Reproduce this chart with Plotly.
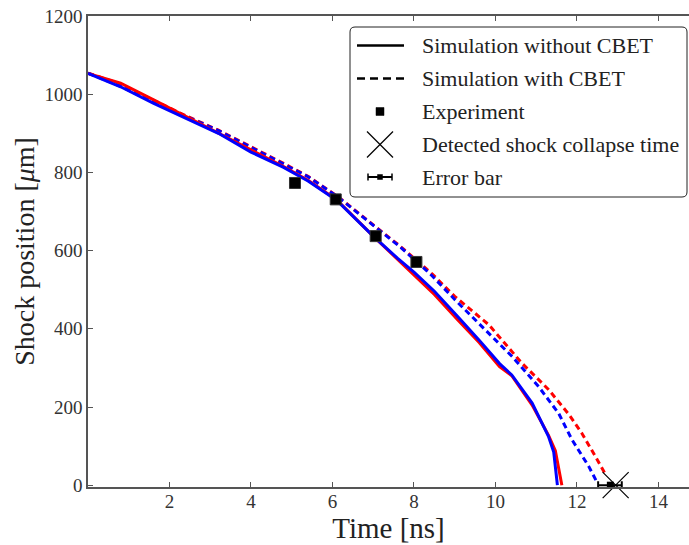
import plotly.graph_objects as go

# ---------------- data ----------------
t_nocbet_red = [0, 0.8, 1.6, 2.4, 3.2, 4.0, 4.8, 5.4, 6.1, 7.0, 7.6, 8.0, 8.5, 9.1, 9.6, 10.1, 10.4, 10.9, 11.3, 11.47, 11.55, 11.63]
y_nocbet_red = [1053, 1028, 986, 943, 902, 857, 815, 780, 730, 637, 577, 538, 488, 420, 365, 303, 280, 205, 128, 88, 40, 0]

t_nocbet_blue = [0, 0.8, 1.6, 2.4, 3.2, 4.0, 4.8, 5.4, 6.1, 7.0, 7.6, 8.0, 8.5, 9.1, 9.6, 10.1, 10.4, 10.9, 11.3, 11.43, 11.48, 11.52]
y_nocbet_blue = [1053, 1019, 977, 938, 900, 852, 813, 778, 729, 637, 580, 545, 496, 428, 371, 311, 282, 210, 125, 85, 45, 0]

t_cbet_red = [0, 0.8, 1.6, 2.4, 3.2, 4.0, 4.8, 5.4, 6.16, 7.14, 7.63, 8.12, 8.45, 9.0, 9.84, 10.65, 11.3, 11.81, 12.12, 12.45, 12.7]
y_cbet_red = [1054, 1026, 985, 945, 908, 866, 823, 790, 736, 654, 614, 570, 540, 483, 410, 312, 245, 180, 133, 74, 28]

t_cbet_blue = [0, 0.8, 1.6, 2.4, 3.2, 4.0, 4.8, 5.4, 6.16, 7.14, 7.63, 8.12, 8.45, 9.0, 9.76, 10.41, 11.06, 11.55, 11.88, 12.29, 12.49]
y_cbet_blue = [1054, 1020, 980, 943, 907, 864, 822, 789, 735, 652, 612, 567, 535, 475, 397, 329, 252, 184, 116, 48, 8]

t_experiment = [5.08, 6.08, 7.06, 8.06]
y_experiment = [773, 731, 637, 571]

t_errorbar = [12.82]
y_errorbar = [0]
err_plus = [0.28]
err_minus = [0.30]

t_collapse = [12.95]
y_collapse = [0]

x_ticks = [2, 4, 6, 8, 10, 12, 14]
y_ticks = [0, 200, 400, 600, 800, 1000, 1200]

legend_labels = ["Simulation without CBET", "Simulation with CBET", "Experiment",
                 "Detected shock collapse time", "Error bar"]

# ---------------- figure ----------------
FONT = "Liberation Serif"
W, H = 689, 545
# plot area in page pixels
SX0, SX1, SY0, SY1 = 88, 689, 16, 487
ML, MR, MT, MB = SX0, W - SX1, SY0, H - SY1
PW, PH = SX1 - SX0, SY1 - SY0

fig = go.Figure()

solid_w = 3
dash_pat = "6px,4px"
fig.add_trace(go.Scatter(x=t_cbet_red, y=y_cbet_red, mode="lines",
                         line=dict(color="#ff0000", width=solid_w, dash=dash_pat)))
fig.add_trace(go.Scatter(x=t_cbet_blue, y=y_cbet_blue, mode="lines",
                         line=dict(color="#0000ff", width=solid_w, dash=dash_pat)))
fig.add_trace(go.Scatter(x=t_nocbet_red, y=y_nocbet_red, mode="lines",
                         line=dict(color="#ff0000", width=solid_w)))
fig.add_trace(go.Scatter(x=t_nocbet_blue, y=y_nocbet_blue, mode="lines",
                         line=dict(color="#0000ff", width=solid_w)))
fig.add_trace(go.Scatter(x=t_experiment, y=y_experiment, mode="markers",
                         marker=dict(symbol="square", size=11, color="black",
                                     line=dict(color="#333333", width=1))))
fig.add_trace(go.Scatter(x=t_errorbar, y=y_errorbar, mode="markers", cliponaxis=False,
                         marker=dict(symbol="square", size=7, color="black"),
                         error_x=dict(type="data", symmetric=False, array=err_plus,
                                      arrayminus=err_minus, color="black",
                                      thickness=2, width=4)))
fig.add_trace(go.Scatter(x=t_collapse, y=y_collapse, mode="markers", cliponaxis=False,
                         marker=dict(symbol="x-thin", size=26, color="black",
                                     line=dict(color="black", width=1.2))))

axis_col = "#555555"
fig.update_xaxes(range=[0, 14.75], tickvals=x_ticks, ticktext=[str(v) for v in x_ticks],
                 ticks="inside", ticklen=5, tickwidth=1.2, tickcolor=axis_col,
                 showline=True, linecolor=axis_col, linewidth=1.5, mirror="ticks",
                 showgrid=False, zeroline=False, ticklabeloverflow="allow",
                 ticklabelstandoff=-4,
                 tickfont=dict(family=FONT, size=19, color="#333333"),
                 title=dict(text="Time [ns]", font=dict(family=FONT, size=29, color="#222222"),
                            standoff=6))
fig.update_yaxes(range=[-4.6, 1200], tickvals=y_ticks, ticktext=[str(v) for v in y_ticks],
                 ticks="inside", ticklen=5, tickwidth=1.2, tickcolor=axis_col,
                 showline=True, linecolor=axis_col, linewidth=1.5, mirror=False,
                 showgrid=False, zeroline=False, ticklabeloverflow="allow",
                 tickfont=dict(family=FONT, size=19, color="#333333"),
                 title=dict(text="Shock position [<i>μ</i>m]",
                            font=dict(family=FONT, size=28, color="#222222"), standoff=2))

# ---------------- boxed legend (drawn by hand to match the original) ----------------
def px(xs):
    return (xs - SX0) / PW

def py(ys):
    return (SY1 - ys) / PH

shapes = []
bx0, bx1, by0, by1, r = 350, 687, 27, 197, 5
path = (f"M {px(bx0 + r)},{py(by0)} L {px(bx1 - r)},{py(by0)} "
        f"Q {px(bx1)},{py(by0)} {px(bx1)},{py(by0 + r)} "
        f"L {px(bx1)},{py(by1 - r)} Q {px(bx1)},{py(by1)} {px(bx1 - r)},{py(by1)} "
        f"L {px(bx0 + r)},{py(by1)} Q {px(bx0)},{py(by1)} {px(bx0)},{py(by1 - r)} "
        f"L {px(bx0)},{py(by0 + r)} Q {px(bx0)},{py(by0)} {px(bx0 + r)},{py(by0)} Z")
shapes.append(dict(type="path", xref="paper", yref="paper", path=path,
                   line=dict(color="#222222", width=1), fillcolor="white", layer="above"))

rows = [45.5, 78.5, 111.5, 144.5, 177]
shapes.append(dict(type="line", xref="paper", yref="paper", x0=px(357), x1=px(404),
                   y0=py(rows[0]), y1=py(rows[0]), line=dict(color="black", width=2.5), layer="above"))
shapes.append(dict(type="line", xref="paper", yref="paper", x0=px(357), x1=px(404),
                   y0=py(rows[1]), y1=py(rows[1]), line=dict(color="black", width=2.5, dash="8px,5px"),
                   layer="above"))
shapes.append(dict(type="rect", xref="paper", yref="paper", x0=px(376), x1=px(384),
                   y0=py(rows[2] - 4), y1=py(rows[2] + 4), line=dict(color="black", width=0.5),
                   fillcolor="black", layer="above"))
for (a, b) in [((367, rows[3] - 13), (393, rows[3] + 13)), ((367, rows[3] + 13), (393, rows[3] - 13))]:
    shapes.append(dict(type="line", xref="paper", yref="paper", x0=px(a[0]), y0=py(a[1]),
                       x1=px(b[0]), y1=py(b[1]), line=dict(color="black", width=1.2), layer="above"))
shapes.append(dict(type="line", xref="paper", yref="paper", x0=px(368), x1=px(392),
                   y0=py(rows[4]), y1=py(rows[4]), line=dict(color="black", width=2), layer="above"))
for xe in (368, 392):
    shapes.append(dict(type="line", xref="paper", yref="paper", x0=px(xe), x1=px(xe),
                       y0=py(rows[4] - 3.5), y1=py(rows[4] + 3.5), line=dict(color="black", width=1.5),
                       layer="above"))
shapes.append(dict(type="rect", xref="paper", yref="paper", x0=px(377.5), x1=px(382.5),
                   y0=py(rows[4] - 2.5), y1=py(rows[4] + 2.5), line=dict(color="black", width=0.5),
                   fillcolor="black", layer="above"))

annotations = []
for label, yr in zip(legend_labels, rows):
    annotations.append(dict(text=label, xref="paper", yref="paper", x=px(420), y=py(yr),
                            xanchor="left", yanchor="middle", showarrow=False,
                            font=dict(family=FONT, size=22, color="#222222")))

fig.update_layout(width=W, height=H, margin=dict(l=ML, r=MR, t=MT, b=MB, autoexpand=False),
                  plot_bgcolor="white", paper_bgcolor="white", showlegend=False,
                  shapes=shapes, annotations=annotations)

# remove the default 8px page margin so the figure fills the window exactly
fig.write_html("out.html", config={"displayModeBar": False},
               post_script="document.body.style.margin='0px';document.body.style.overflow='hidden';")
